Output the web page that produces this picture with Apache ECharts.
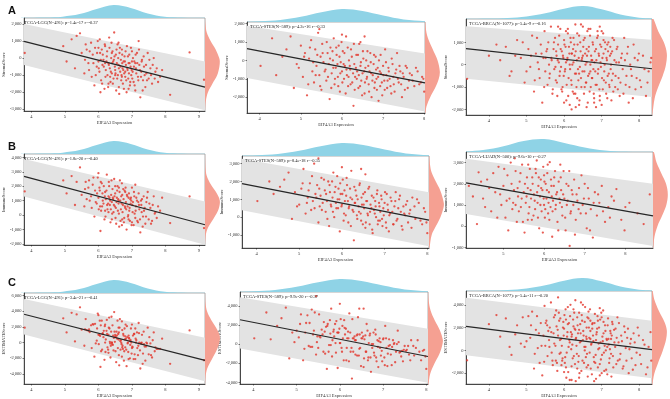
<!DOCTYPE html>
<html>
<head>
<meta charset="utf-8">
<script src="https://cdn.jsdelivr.net/npm/echarts@6/dist/echarts.min.js"></script>
<style>
  html, body { margin: 0; background: #fff; }
  #chart { width: 670px; height: 399px; }
</style>
</head>
<body>
<div id="chart"></div>
<script>
// samples: [EIF4A3 expression, StromalScore, ImmuneScore, ESTIMATEScore]
const lggSamples = [
  [3.80,300,1640,1900],[8.72,330,1290,1560],[8.14,-2150,-550,-2700],[9.15,-1270,-900,-2250],
  [4.95,700,2400,3100],[5.05,-200,1500,1300],[5.2,1100,2700,3800],[5.3,-600,700,150],
  [5.45,1450,3300,4500],[5.5,300,1400,1650],[5.58,-900,600,-400],[5.62,800,2300,3000],
  [5.7,-300,1900,1500],[5.74,400,1000,1350],[5.8,-1100,500,-700],[5.83,200,2100,2350],
  [5.88,-1600,-100,-1800],[5.9,600,1700,2400],[5.95,-500,800,250],[5.98,1000,2600,3700],
  [6.0,-200,1200,1000],[6.03,-800,1900,1000],[6.05,300,600,850],[6.08,-1300,300,-1100],
  [6.1,500,2200,2800],[6.12,-400,1500,1100],[6.15,-100,800,700],[6.18,-1800,-300,-2200],
  [6.2,700,1600,2300],[6.22,-700,1100,400],[6.25,100,2800,2900],[6.27,-1000,400,-600],
  [6.3,-300,1300,1000],[6.32,1200,2000,3200],[6.34,-600,700,100],[6.36,-1400,-500,-1900],
  [6.38,0,1400,1400],[6.4,-900,900,0],[6.42,400,1800,2200],[6.44,-200,1100,900],
  [6.45,-1200,200,-1000],[6.47,1500,2500,3900],[6.49,-500,600,100],[6.5,-700,1500,800],
  [6.52,200,500,700],[6.53,-1900,-600,-2500],[6.55,-300,1200,900],[6.57,800,2000,2800],
  [6.58,-1000,300,-700],[6.6,-400,800,400],[6.62,-2100,-800,-2900],[6.63,300,1600,1900],
  [6.65,-800,1000,200],[6.67,-100,400,300],[6.68,-1300,1300,0],[6.7,500,2200,2700],
  [6.72,-600,200,-400],[6.73,-1500,700,-800],[6.75,-200,1100,900],[6.77,-900,-200,-1100],
  [6.78,100,1700,1800],[6.8,-1100,500,-600],[6.82,-400,900,500],[6.84,-2000,-1000,-3000],
  [6.85,700,1400,2100],[6.87,-700,600,-100],[6.89,-1200,0,-1200],[6.9,-300,1200,900],
  [6.92,200,300,500],[6.94,-1600,-400,-2000],[6.96,-500,800,300],[6.98,-1000,1000,0],
  [7.0,400,1900,2300],[7.02,-800,200,-600],[7.05,-1400,-700,-2100],[7.07,-200,1300,1100],
  [7.1,-1900,-200,-2100],[7.12,-600,600,0],[7.15,300,1000,1300],[7.18,-1100,-500,-1600],
  [7.2,1000,1500,2500],[7.22,-400,400,0],[7.25,-2300,-1200,-3300],[7.28,-800,700,-100],
  [7.3,-100,1100,1000],[7.33,-1300,-100,-1400],[7.36,-500,300,-200],[7.4,-1700,-600,-2300],
  [7.43,-900,900,0],[7.47,300,1600,1900],[7.5,-1200,-300,-1500],[7.55,-600,500,-100],
  [7.6,-1500,-400,-1900],[7.65,0,1300,1300],[7.7,-800,200,-600],[7.78,-1400,600,-800],
  [6.46,-100,700,600],[6.61,-600,1900,1300],[6.71,-300,-300,-600],[6.35,-1100,1000,-100],
  [5.35,1300,2300,3600],[7.9,-700,1200,500],[6.06,-2000,-1100,-3100],
  [5.6,-100,1800,1700],[5.65,500,1100,1600],[5.72,-700,2400,1700],[5.78,900,1300,2200],
  [5.85,-300,2600,2300],[5.92,-1000,900,-100],[5.96,300,1500,1800],[6.01,-600,400,-200],
  [6.04,1100,1700,2800],[6.07,-100,2300,2200],[6.11,-1500,600,-900],[6.13,200,1000,1200],
  [6.16,-500,2000,1500],[6.19,800,1300,2100],[6.21,-1100,-100,-1200],[6.24,-200,1700,1500],
  [6.26,400,700,1100],[6.29,-1700,800,-900],[6.31,-400,2300,1900],[6.33,600,1200,1800],
  [6.37,-800,400,-400],[6.39,900,2400,3300],[6.41,-300,100,-200],[6.43,-1500,1200,-300],
  [6.48,100,1300,1400],[6.51,-900,-200,-1100],[6.54,500,900,1400],[6.56,-1200,1700,500],
  [6.59,0,1100,1100],[6.61,-1700,100,-1600],[6.64,600,2400,3000],[6.66,-500,-400,-900],
  [6.69,-1000,800,-200],[6.71,200,1400,1600],[6.74,-700,1800,1100],[6.76,-1800,-500,-2300],
  [6.79,-200,600,400],[6.81,400,1900,2300],[6.83,-1300,400,-900],[6.86,-600,1300,700],
  [6.88,100,-100,0],[6.91,-900,1500,600],[6.93,-300,500,200],[6.95,-1400,1100,-300],
  [6.97,600,1200,1800],[6.99,-700,-700,-1400],[7.01,-1200,700,-500],[7.03,0,900,900],
  [7.06,-500,1600,1100],[7.08,-1600,100,-1500],[7.11,200,300,500],[7.13,-900,1200,300],
  [7.16,-300,-400,-700],[7.19,-1300,900,-400],[7.21,500,700,1200],[7.24,-700,-300,-1000],
  [7.27,-1100,1000,-100],[7.29,-200,200,0],[7.32,-1900,-800,-2700],[7.35,100,1300,1400],
  [7.38,-1000,500,-500],[7.42,-400,-100,-500],[7.45,-1300,1200,-100],[7.52,-100,800,700],
  [7.57,-1000,-600,-1600],[7.62,-400,700,300],[7.68,-1200,100,-1100],[7.74,-600,-200,-800],
  [7.84,-1100,300,-800],[6.3,-1500,200,-1300],[6.5,-1000,2000,1000],[6.7,-1100,-700,-1800],
  [6.9,-1800,-300,-2100],[6.6,900,1000,1900],[6.8,-800,1600,800],[7.0,-200,-500,-700],
  [6.4,300,-300,0],[6.2,-300,300,0],[6.0,600,2900,3500],[7.1,-300,2100,1800]
];
// samples: [EIF4A3 expression, StromalScore, ImmuneScore, ESTIMATEScore]
const stesSamples = [
  [4.02,-300,900,600],[4.3,1200,2000,3300],[4.55,200,1700,1900],[4.83,-1500,-100,-1500],
  [4.75,1300,2500,3800],[4.9,-200,1400,1200],[5.0,800,700,1400],[5.05,-900,1600,700],
  [5.1,400,2700,3100],[5.15,-1900,200,-1700],[5.2,100,1100,1200],[5.25,1100,1900,3000],
  [5.28,-600,400,-200],[5.32,-1200,900,-300],[5.35,600,3000,3600],[5.38,-300,1300,1000],
  [5.42,1500,1800,3300],[5.45,-800,-300,-1100],[5.48,200,600,800],[5.5,-1600,1200,-400],
  [5.52,900,2200,3100],[5.55,-100,800,700],[5.45,1700,3300,5000],[5.6,-500,1500,1000],
  [5.62,-1100,300,-800],[5.65,400,900,1300],[5.68,-200,2000,1800],[5.7,-2100,-500,-2600],
  [5.72,700,1400,2100],[5.75,-700,600,-100],[5.78,0,1100,1100],[5.8,1200,2500,3700],
  [5.82,-1300,0,-1300],[5.85,-400,1700,1300],[5.87,300,500,800],[5.9,-900,1000,100],
  [5.92,800,1600,2400],[5.95,-1700,-800,-2500],[5.97,-100,1300,1200],[6.0,-600,700,100],
  [6.02,500,2100,2600],[6.05,-1000,200,-800],[6.07,-300,900,600],[6.1,1300,1200,2500],
  [6.12,-800,1800,1000],[6.15,-1400,-300,-1700],[6.17,0,600,600],[6.2,-500,1100,600],
  [6.22,600,2600,3200],[6.25,-1200,400,-800],[6.28,-2470,-1300,-3600],[6.3,-200,800,600],
  [6.32,-900,1500,600],[6.35,300,100,400],[6.37,-600,1000,400],[6.4,-1500,300,-1200],
  [6.42,900,1900,2800],[6.45,-300,-200,-500],[6.47,-1100,700,-400],[6.5,-700,1300,600],
  [6.52,100,500,600],[6.55,-1800,-600,-2400],[6.57,-400,900,500],[6.6,-1000,200,-800],
  [6.62,500,1600,2100],[6.65,-1300,-400,-1700],[6.67,-600,700,100],[6.7,-100,1200,1100],
  [6.72,-2000,-900,-2900],[6.75,-800,400,-400],[6.78,300,900,1200],[6.8,-1200,0,-1200],
  [6.83,-500,1500,1000],[6.85,-1600,-200,-1800],[6.88,-900,600,-300],[6.9,0,300,300],
  [6.93,-1400,1000,-400],[6.95,-700,-500,-1200],[6.98,-1900,100,-1800],[7.0,-300,800,500],
  [7.03,-1100,-300,-1400],[7.05,600,1300,1900],[7.08,-800,400,-400],[7.1,-1500,-800,-2300],
  [7.13,-400,200,-200],[7.16,-1000,900,-100],[7.2,-1800,-400,-2200],[7.23,-200,600,400],
  [7.26,-1300,1400,100],[7.3,-700,-100,-800],[7.34,400,1000,1400],[7.38,-1200,300,-900],
  [7.42,-600,-700,-1300],[7.46,-2000,200,-1800],[7.5,-900,700,-200],[7.55,-300,-300,-600],
  [7.6,-1500,400,-1100],[7.65,-700,1100,400],[7.72,-1100,-100,-1200],[7.8,-400,800,400],
  [7.88,-1300,-400,-1700],[7.95,-900,300,-600],[8.0,-1700,-900,-2600],[6.0,1400,2800,4200],
  [6.55,1300,2400,3700],[6.45,1000,2700,3700],
  [4.4,-800,1300,500],[4.65,600,2100,2700],[4.95,-400,600,200],[5.08,200,1900,2100],
  [5.18,-1300,800,-500],[5.22,700,1500,2200],[5.3,-100,2300,2200],[5.36,-800,500,-300],
  [5.4,300,1100,1400],[5.47,-1400,1600,200],[5.53,400,400,800],[5.58,-600,2100,1500],
  [5.63,1000,1300,2300],[5.66,-900,-100,-1000],[5.71,100,1800,1900],[5.74,-1500,700,-800],
  [5.77,500,2000,2500],[5.79,-400,300,-100],[5.83,-1000,1400,400],[5.86,700,800,1500],
  [5.89,-200,2300,2100],[5.91,-1400,500,-900],[5.94,200,1000,1200],[5.96,-700,1900,1200],
  [5.99,1000,600,1600],[6.01,-1200,1300,100],[6.04,-200,-200,-400],[6.06,400,1500,1900],
  [6.09,-1800,100,-1700],[6.11,-500,2200,1700],[6.14,700,900,1600],[6.16,-900,500,-400],
  [6.19,-300,1600,1300],[6.21,-1300,-500,-1800],[6.24,200,1000,1200],[6.27,-700,300,-400],
  [6.29,900,1700,2600],[6.31,-1600,800,-800],[6.34,-400,1200,800],[6.36,-1000,-100,-1100],
  [6.39,300,600,900],[6.41,-800,1800,1000],[6.44,-1400,200,-1200],[6.46,-100,1100,1000],
  [6.49,-1900,-400,-2300],[6.51,500,700,1200],[6.54,-600,1400,800],[6.56,-1200,-300,-1500],
  [6.59,0,900,900],[6.61,-900,100,-800],[6.64,-300,1700,1400],[6.66,-1700,300,-1400],
  [6.69,400,500,900],[6.71,-700,-700,-1400],[6.74,-1100,1100,0],[6.77,-200,200,0],
  [6.79,-1500,600,-900],[6.82,200,1300,1500],[6.84,-1000,-400,-1400],[6.87,-400,800,400],
  [6.89,-2200,-200,-2400],[6.92,-600,1200,600],[6.94,300,-100,200],[6.97,-1200,500,-700],
  [7.01,-800,1400,600],[7.04,-1600,-600,-2200],[7.07,-100,700,600],[7.11,-1100,100,-1000],
  [7.14,-600,1100,500],[7.18,-1400,300,-1100],[7.21,100,-400,-300],[7.25,-900,900,0],
  [7.28,-1700,-200,-1900],[7.32,-500,500,0],[7.36,-1000,1200,200],[7.4,-300,-500,-800],
  [7.44,-1300,600,-700],[7.48,-700,100,-600],[7.53,-1600,900,-700],[7.58,-400,200,-200],
  [7.63,-1100,-600,-1700],[7.7,-800,600,-200],[7.76,-1400,1000,-400],[7.84,-600,-200,-800],
  [7.92,-1200,500,-700],[7.98,-1000,-300,-1300]
];
// samples: [EIF4A3 expression, StromalScore, ESTIMATEScore]
const brcaSamples = [
  [3.42,-630,-870],[4.0,400,2300],[4.3,200,1200],[4.45,800,2800],[4.6,-300,-400],[4.75,1100,2200],[4.85,300,600],[4.95,-800,300],
  [5.05,700,3000],[5.1,-100,1100],[5.15,1300,3400],[5.2,-1200,-1600],[5.25,500,1800],[5.3,100,200],[5.35,-600,-1100],[5.38,900,2400],
  [5.42,-1700,-2200],[5.45,300,1300],[5.48,1500,3900],[5.5,-300,400],[5.53,600,2600],[5.56,-900,-500],[5.58,1000,1700],[5.6,0,900],
  [5.62,-400,2000],[5.65,1700,4200],[5.67,200,-200],[5.7,-1100,-1300],[5.72,700,1500],[5.74,-200,600],[5.76,1200,3100],[5.78,-700,-900],
  [5.8,400,2100],[5.82,-1400,-1800],[5.84,900,1300],[5.86,100,3300],[5.88,-500,-300],[5.9,1600,2800],[5.92,-100,1000],[5.94,600,400],
  [5.96,-1000,-700],[5.98,300,2500],[6.0,1100,1900],[6.02,-300,-1100],[6.04,800,3600],[6.06,-1600,-2400],[6.08,200,1200],[6.1,1400,2300],
  [6.12,-600,300],[6.14,500,900],[6.16,-200,3000],[6.18,1000,1600],[6.2,-900,-1400],[6.22,0,500],[6.24,700,2700],[6.26,-1300,-500],
  [6.28,400,1900],[6.3,1800,4400],[6.32,-400,1100],[6.34,200,-300],[6.36,900,2200],[6.38,-700,-1000],[6.4,1300,3300],[6.42,-100,700],
  [6.44,600,1500],[6.46,-1000,-1800],[6.48,300,2600],[6.31,-1900,-2700],[6.52,1100,1300],[6.54,-300,300],[6.56,500,3800],[6.58,-800,-600],
  [6.6,100,1000],[6.62,1500,2900],[6.64,-500,-1300],[6.66,800,2000],[6.68,-1200,-200],[6.7,0,1700],[6.72,400,500],[6.74,-600,-2100],
  [6.76,1000,2400],[6.78,-200,800],[6.8,-1500,-1000],[6.82,600,3200],[6.84,-900,-400],[6.86,200,1400],[6.88,1200,1900],[6.9,-400,-1500],
  [6.92,500,600],[6.94,-1100,200],[6.96,900,2700],[6.98,-100,-800],[7.0,-1800,-2000],[7.02,300,1200],[7.04,1400,3500],[7.06,-700,-200],
  [7.08,0,400],[7.1,700,1700],[7.12,-1300,-1700],[7.14,200,900],[7.16,-500,2200],[7.18,1000,1000],[7.2,-900,-1100],[7.22,400,100],
  [7.24,-200,1500],[7.26,-1600,-2300],[7.28,600,2500],[7.3,-400,-500],[7.33,1100,1800],[7.36,-1000,300],[7.39,100,-1200],[7.42,800,2900],
  [7.45,-600,700],[7.48,-1400,-800],[7.52,300,1300],[7.56,-200,-1600],[7.6,1200,2100],[7.64,-900,200],[7.68,500,1100],[7.72,-1700,-2000],
  [7.76,0,600],[7.8,-500,-700],[7.85,900,1500],[7.9,-1100,-1300],[7.96,200,2000],[8.02,-700,-400],[8.1,400,900],[8.18,-1400,-2100],
  [8.25,-300,300],[8.32,300,-900],[5.84,1700,4650],[6.15,-1800,-2600],[6.65,1600,3400],[6.35,-1500,-1600],[6.95,1700,3700],[6.25,1200,3600],
  [6.85,-1900,-2500],[7.05,1100,2500],[6.55,-1000,0],[6.05,100,-1500],[5.95,-1200,-900],[6.75,200,2300],[7.15,900,300],[6.4,-400,1800],
  [6.6,700,2000],[6.9,1300,2600],[7.25,500,1000],[6.2,500,1200],[6.7,-300,1000],[6.5,400,900],
  [5.55,700,2200],[5.61,-600,300],[5.66,300,1600],[5.69,-1300,-900],[5.73,1000,2900],[5.77,-100,400],
  [5.79,600,3500],[5.81,-800,-1100],[5.83,200,1800],[5.87,1300,2600],[5.89,-300,900],[5.91,700,-200],
  [5.93,-1100,-1300],[5.97,400,2000],[5.99,-500,1300],[6.01,900,3100],[6.03,-200,-600],[6.05,1500,2700],
  [6.07,-900,-200],[6.09,300,1600],[6.11,-1400,-1900],[6.13,800,2400],[6.15,0,700],[6.17,1200,4000],
  [6.19,-700,100],[6.21,500,1400],[6.23,-1200,-700],[6.25,100,2100],[6.27,900,3300],[6.29,-400,-1200],
  [6.31,600,1000],[6.33,-1000,400],[6.35,1400,2900],[6.37,-200,1500],[6.39,300,-500],[6.41,-1600,-2000],
  [6.43,1000,2300],[6.45,-600,800],[6.47,200,3100],[6.49,-300,-900],[6.51,800,1700],[6.53,-1300,-1100],
  [6.55,1200,2500],[6.57,0,300],[6.59,-800,1200],[6.61,400,-300],[6.63,-1700,-2300],[6.65,600,2800],
  [6.67,-400,1100],[6.69,1300,3600],[6.71,-1000,-1600],[6.73,200,600],[6.75,-600,1900],[6.77,900,1300],
  [6.79,-1300,-600],[6.81,100,2400],[6.83,-300,-1100],[6.85,700,900],[6.87,-900,1600],[6.89,1500,3000],
  [6.91,-200,100],[6.93,400,2000],[6.95,-1400,-1200],[6.97,100,700],[6.99,800,3300],[7.01,-600,-400],
  [7.03,-1100,800],[7.05,500,1500],[7.07,-300,-1800],[7.09,1000,2200],[7.11,-800,0],[7.13,300,1000],
  [7.15,-1500,-2100],[7.17,600,2800],[7.19,-400,500],[7.21,-1000,-700],[7.23,800,1700],[7.25,0,-300],
  [7.27,-700,1300],[7.29,1200,2300],[7.31,-1200,-1500],[7.34,200,700],[7.37,-500,1900],[7.4,700,1100],
  [7.43,-1100,-900],[7.46,100,2400],[7.5,-800,-300],[7.54,500,800],[7.58,-1300,-1400],[7.62,200,1600],
  [7.66,-500,-900],[7.7,800,1900],[7.74,-1000,100],[7.78,-200,1000],[7.83,-1500,-1700],[7.88,300,700],
  [7.93,-600,-200],[7.99,500,1300],[8.05,-1000,-1200],[8.14,-200,500],[8.22,-800,-1500],[8.3,100,1600],
  [4.2,900,3100],[4.55,-500,300],[4.7,400,1400],[4.9,1000,2900],[5.0,-300,800],[5.12,400,2200],
  [5.22,-700,-300],[5.28,1200,3000],[5.33,-200,1500],[5.4,500,400],[5.47,-1000,-1000],[5.51,300,2400],
  [6.0,-1700,-1900],[6.3,-1300,1800],[6.5,1700,4000],[6.8,-1700,-2700],[7.0,1500,2900],[6.2,-2000,-2600],
  [6.6,-1900,-1500],[6.45,1800,4200],[6.1,1600,3800],[6.95,-1600,-2200],[6.7,1600,2600],[6.4,-1800,-2400]
];
// samples: [EIF4A3 expression, ImmuneScore]
const luadSamples = [
  [4.15,1900],[4.35,100],[4.39,2540],[4.5,1300],[4.6,2200],[4.7,700],[4.8,1600],[4.88,2800],[4.95,1000],[5.0,1900],
  [5.05,400],[5.1,2400],[5.15,1300],[5.18,3000],[5.22,800],[5.26,1700],[5.3,2600],[5.33,200],[5.36,1400],[5.4,2100],
  [5.43,900],[5.46,2900],[5.5,1600],[5.52,-300],[5.55,1100],[5.58,2300],[5.6,1800],[5.62,600],[5.65,2700],[5.68,1300],
  [5.7,300],[5.72,2000],[5.75,1500],[5.78,800],[5.8,2500],[5.82,3100],[5.84,1100],[5.86,1900],[5.88,-100],[5.9,1400],
  [5.92,2200],[5.94,700],[5.96,1700],[5.98,2800],[6.0,1000],[6.02,400],[6.04,2000],[6.06,1300],[6.08,2500],[6.1,600],
  [6.12,1600],[6.14,3020],[6.16,900],[6.18,1900],[6.2,-500],[6.22,1200],[6.25,2300],[6.28,800],[6.3,1500],[6.33,200],
  [6.36,2100],[6.39,1100],[6.42,1700],[6.45,500],[6.48,2600],[6.5,1300],[6.53,-200],[6.56,1000],[6.6,1900],[6.63,-930],
  [6.66,700],[6.7,1500],[6.74,2200],[6.78,300],[6.82,1200],[6.86,1800],[6.9,600],[6.95,1000],[7.0,2000],[7.05,-100],
  [7.1,1300],[7.15,800],[7.2,-540],[7.25,1600],[7.3,500],[7.36,1100],[7.42,1900],[7.5,200],[7.58,900],[7.66,1400],
  [7.78,1750],[7.9,300],[7.98,-200],[8.1,1100],[8.3,600],[8.6,1500],[6.0,2400],[5.6,300],[6.4,2900],[5.3,1000],
  [4.25,1400],[4.45,2100],[4.55,900],[4.65,1800],[4.75,2500],[4.85,400],[4.92,1500],[5.02,2700],[5.08,1200],[5.12,-200],
  [5.2,2000],[5.24,1100],[5.28,3200],[5.35,1800],[5.38,700],[5.42,2500],[5.45,1300],[5.48,200],[5.53,2000],[5.57,1400],
  [5.61,2900],[5.64,900],[5.67,1700],[5.71,2300],[5.74,500],[5.77,1200],[5.79,2700],[5.83,1600],[5.85,400],[5.87,2300],
  [5.91,1000],[5.93,1800],[5.97,-300],[5.99,1300],[6.01,2100],[6.03,800],[6.07,1700],[6.09,2900],[6.11,1100],[6.13,300],
  [6.17,2200],[6.19,1400],[6.21,700],[6.24,1900],[6.27,2600],[6.29,1000],[6.32,1600],[6.35,-200],[6.38,1300],[6.41,2300],
  [6.44,900],[6.47,1500],[6.52,400],[6.55,2000],[6.58,1200],[6.62,2600],[6.65,600],[6.68,1700],[6.72,1000],[6.76,-400],
  [6.8,1500],[6.85,800],[6.92,2400],[6.98,1300],[7.03,600],[7.08,1800],[7.13,-200],[7.22,1100],[7.33,1500],[7.45,700],
  [7.62,400],[7.72,1200],[8.0,900],[8.45,100]
];

// marginal density of expression: [expression, relative density]
const lggExprDensity = [[3.78,0.01],[4.5,0.03],[5.0,0.1],[5.5,0.3],[6.0,0.7],[6.5,1.0],[7.0,0.78],[7.5,0.35],[8.0,0.1],[8.5,0.04],[9.18,0.01]];
const stesExprDensity = [[3.66,0.02],[4.0,0.05],[4.5,0.15],[5.0,0.4],[5.5,0.75],[6.0,1.0],[6.5,0.85],[7.0,0.5],[7.5,0.2],[8.04,0.05]];
const brcaExprDensity = [[3.39,0.01],[4.0,0.03],[4.5,0.08],[5.0,0.2],[5.5,0.45],[6.0,0.8],[6.5,1.0],[7.0,0.75],[7.5,0.35],[8.0,0.1],[8.34,0.04]];
const luadExprDensity = [[4.08,0.03],[4.5,0.15],[5.0,0.45],[5.5,0.85],[6.0,1.0],[6.5,0.7],[7.0,0.35],[7.5,0.12],[8.0,0.04],[8.68,0.01]];

// marginal density of scores: [relative density, score]
const lggStromalDensity = [[0,-3100],[0.06,-2500],[0.2,-2000],[0.5,-1500],[0.82,-1000],[0.97,-500],[1.0,-200],[0.96,0],[0.72,500],[0.38,1000],[0.12,1500],[0.03,2000],[0,2350]];
const stesStromalDensity = [[0.03,-2860],[0.1,-2500],[0.35,-2000],[0.68,-1500],[0.93,-1000],[1.0,-600],[0.85,0],[0.58,500],[0.3,1000],[0.1,1500],[0.02,2090]];
const brcaStromalDensity = [[0.02,-2250],[0.18,-1500],[0.42,-1000],[0.72,-500],[0.94,0],[1.0,500],[0.8,1000],[0.42,1500],[0.1,2045]];
const lggImmuneDensity = [[0,-2070],[0.04,-1500],[0.15,-1000],[0.42,-500],[0.72,0],[0.94,500],[1.0,1000],[0.8,1500],[0.47,2000],[0.2,2500],[0.06,3000],[0,4230]];
const stesImmuneDensity = [[0.03,-1730],[0.18,-1000],[0.47,-500],[0.77,0],[0.97,500],[1.0,800],[0.76,1500],[0.46,2000],[0.18,2500],[0.06,3000],[0.02,3430]];
const luadImmuneDensity = [[0.02,-1030],[0.1,-500],[0.3,0],[0.62,500],[0.9,1000],[1.0,1500],[0.88,2000],[0.56,2500],[0.24,3000],[0.06,3500]];
const lggEstimateDensity = [[0,-5280],[0.04,-4000],[0.15,-3000],[0.42,-2000],[0.72,-1000],[0.94,0],[1.0,1000],[0.76,2000],[0.42,3000],[0.15,4000],[0.04,5000],[0,6330]];
const stesEstimateDensity = [[0.02,-4170],[0.15,-3000],[0.42,-2000],[0.76,-1000],[0.97,0],[1.0,500],[0.8,1500],[0.46,2500],[0.18,3500],[0.05,4500],[0.01,5440]];
const brcaEstimateDensity = [[0.02,-2950],[0.15,-2000],[0.42,-1000],[0.72,0],[0.95,1000],[1.0,1800],[0.85,2500],[0.46,3500],[0.15,4500],[0.04,5210]];

// per panel (A1..C3)
const panelTitles = [
  "TCGA-LGG(N=491): p=1.4e-17 r=-0.37", "TCGA-STES(N=589): p=4.2e-16 r=-0.33", "TCGA-BRCA(N=1077): p=5.4e-9 r=-0.16",
  "TCGA-LGG(N=491): p=1.8e-20 r=-0.40", "TCGA-STES(N=589): p=8.4e-18 r=-0.35", "TCGA-LUAD(N=500): p=9.6e-10 r=-0.27",
  "TCGA-LGG(N=491): p=3.4e-21 r=-0.41", "TCGA-STES(N=589): p=9.9e-20 r=-0.37", "TCGA-BRCA(N=1077): p=5.4e-11 r=-0.20"
];
const scoreNames = ["StromalScore", "ImmuneScore", "ESTIMATEScore"];
const rowLetters = ["A", "B", "C"];
const xRanges = [[3.78,9.18],[3.69,8.02],[3.39,8.34],[3.78,9.18],[3.66,8.04],[4.08,8.68],[3.78,9.18],[3.69,8.04],[3.39,8.34]];
const yRanges = [[-3100,2350],[-2860,2090],[-2250,2045],[-2070,4230],[-1730,3430],[-1030,3500],[-5280,6330],[-4170,5440],[-2950,5210]];
const xTicks = [[4,5,6,7,8,9],[4,5,6,7,8],[4,5,6,7,8],[4,5,6,7,8,9],[4,5,6,7,8],[5,6,7,8],[4,5,6,7,8,9],[4,5,6,7,8],[4,5,6,7,8]];
const yTicks = [
  [-3000,-2000,-1000,0,1000,2000],[-2000,-1000,0,1000,2000],[-2000,-1000,0,1000],
  [-2000,-1000,0,1000,2000,3000,4000],[-1000,0,1000,2000,3000],[-1000,0,1000,2000,3000],
  [-4000,-2000,0,2000,4000,6000],[-4000,-2000,0,2000,4000],[-2000,0,2000,4000]
];
// regression line value at the left and right edge
const fitEnds = [[980,-1700],[640,-1220],[716,-180],[2680,-670],[1880,-170],[2040,490],[3620,-2260],[2540,-1300],[2110,60]];
// grey band: [top left, bottom left, top right, bottom right]
const bandEnds = [
  [2000,-400,-200,-3050],[1880,-950,380,-2780],[1716,-630,1120,-1450],
  [3880,1290,950,-2050],[3280,390,1400,-1630],[3180,570,2000,-930],
  [5550,1030,620,-4940],[4880,-450,1610,-4050],[4620,-430,2600,-2450]
];

const panels = [
  { rows: lggSamples, col: 1, xDens: lggExprDensity, yDens: lggStromalDensity },
  { rows: stesSamples, col: 1, xDens: stesExprDensity, yDens: stesStromalDensity },
  { rows: brcaSamples, col: 1, xDens: brcaExprDensity, yDens: brcaStromalDensity },
  { rows: lggSamples, col: 2, xDens: lggExprDensity, yDens: lggImmuneDensity },
  { rows: stesSamples, col: 2, xDens: stesExprDensity, yDens: stesImmuneDensity },
  { rows: luadSamples, col: 1, xDens: luadExprDensity, yDens: luadImmuneDensity },
  { rows: lggSamples, col: 3, xDens: lggExprDensity, yDens: lggEstimateDensity },
  { rows: stesSamples, col: 3, xDens: stesExprDensity, yDens: stesEstimateDensity },
  { rows: brcaSamples, col: 2, xDens: brcaExprDensity, yDens: brcaEstimateDensity }
];

// scatter plot area of each panel in pixels: left, top, right, bottom
const boxes = [
  [21,18,205,111],[247,22,425,113],[466,19,652,115],
  [21,154,205,245],[242,156,429,248],[466,152,653,248],
  [21,293,205,387],[240,292,428,385],[466,291,652,385]
];
const TOP_H = 14;
const SIDE_W = 16;

const SERIF = "Liberation Serif";
const fmt = (v) => Number(v).toLocaleString("en-US");

function polySeries(idx, pts, color, z, smooth) {
  return {
    type: "custom",
    xAxisIndex: idx,
    yAxisIndex: idx,
    silent: true,
    clip: true,
    z: z,
    data: [pts[0]],
    renderItem: (params, api) => ({
      type: "polygon",
      shape: { points: pts.map((p) => api.coord(p)), smooth: smooth },
      style: { fill: color }
    })
  };
}

const grid = [], xAxis = [], yAxis = [], series = [], title = [];

panels.forEach((p, i) => {
  const [l, t, r, b] = boxes[i];
  const [x0, x1] = xRanges[i];
  const [y0, y1] = yRanges[i];
  const g = i * 3;

  grid.push(
    { left: l, top: t, width: r - l, height: b - t, show: true, borderColor: "#9a9a9a", borderWidth: 0.8, backgroundColor: "#fff" },
    { left: l, top: t - TOP_H, width: r - l, height: TOP_H },
    { left: r, top: t, width: SIDE_W, height: b - t }
  );

  xAxis.push(
    {
      type: "value", gridIndex: g, min: x0, max: x1,
      name: "EIF4A3 Expression", nameLocation: "middle", nameGap: 9,
      nameTextStyle: { fontFamily: SERIF, fontSize: 4.5, color: "#333" },
      axisLine: { onZero: false, lineStyle: { color: "#222", width: 0.8 } },
      axisTick: { length: 1.5, lineStyle: { color: "#222", width: 0.6 }, customValues: xTicks[i] },
      axisLabel: { fontFamily: SERIF, fontSize: 4.5, color: "#333", margin: 3, customValues: xTicks[i] },
      splitLine: { show: false }
    },
    { type: "value", gridIndex: g + 1, min: x0, max: x1, show: false },
    { type: "value", gridIndex: g + 2, min: 0, max: 1.08, show: false }
  );

  yAxis.push(
    {
      type: "value", gridIndex: g, min: y0, max: y1,
      name: scoreNames[Math.floor(i / 3)], nameLocation: "middle", nameGap: 14,
      nameTextStyle: { fontFamily: SERIF, fontSize: 4.5, color: "#333" },
      axisLine: { show: true, onZero: false, lineStyle: { color: "#222", width: 0.8 } },
      axisTick: { show: true, length: 1.5, lineStyle: { color: "#222", width: 0.6 }, customValues: yTicks[i] },
      axisLabel: { fontFamily: SERIF, fontSize: 4.5, color: "#333", margin: 2.5, formatter: fmt, customValues: yTicks[i] },
      splitLine: { show: false }
    },
    { type: "value", gridIndex: g + 1, min: 0, max: 1.08, show: false },
    { type: "value", gridIndex: g + 2, min: y0, max: y1, show: false }
  );

  const bd = bandEnds[i];
  series.push(polySeries(g, [[x0, bd[0]], [x1, bd[2]], [x1, bd[3]], [x0, bd[1]]], "#e3e3e3", 1, 0));

  series.push({
    type: "scatter", xAxisIndex: g, yAxisIndex: g, z: 2, silent: true,
    symbolSize: 2.3,
    itemStyle: { color: "#e2342b" },
    data: p.rows.map((row) => [row[0], row[p.col]])
  });

  series.push({
    type: "line", xAxisIndex: g, yAxisIndex: g, z: 3, silent: true,
    symbol: "none",
    lineStyle: { color: "#262626", width: 1.2 },
    data: [[x0, fitEnds[i][0]], [x1, fitEnds[i][1]]]
  });

  const xd = p.xDens;
  series.push(polySeries(g + 1, [[xd[0][0], 0], ...xd, [xd[xd.length - 1][0], 0]], "#8fd3e6", 1, 0.35));
  const yd = p.yDens;
  series.push(polySeries(g + 2, [[0, yd[0][1]], ...yd, [0, yd[yd.length - 1][1]]], "#f5a092", 1, 0.35));

  title.push({
    text: panelTitles[i], left: l + 3, top: t + 2, padding: 0,
    textStyle: { fontFamily: SERIF, fontSize: 4.5, fontWeight: "normal", color: "#222" }
  });
});

rowLetters.forEach((letter, k) => {
  title.push({
    text: letter, left: 8, top: [5, 141, 277][k], padding: 0,
    textStyle: { fontFamily: "Liberation Sans", fontSize: 11, fontWeight: "bold", color: "#111" }
  });
});

const chart = echarts.init(document.getElementById("chart"), null, { renderer: "canvas" });
chart.setOption({
  animation: false,
  backgroundColor: "#fff",
  title, grid, xAxis, yAxis, series
});
</script>
</body>
</html>
